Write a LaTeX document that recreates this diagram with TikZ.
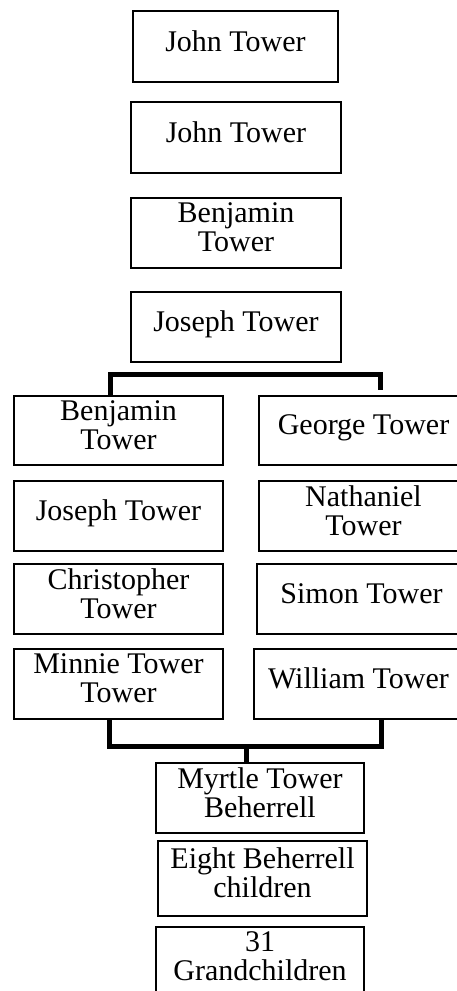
\documentclass[tikz,border=0pt]{standalone}
\usepackage{fontspec}
\setmainfont{Liberation Serif}
\usetikzlibrary{positioning}

\begin{document}
\begin{tikzpicture}[x=1pt, y=-1pt,
    person/.style={draw, line width=2pt, rectangle, align=center, inner sep=0pt,
      minimum width=209pt, minimum height=70pt, text depth=11pt,
      font=\fontsize{30}{29}\selectfont},
    bracket/.style={line width=5pt}]
    \useasboundingbox (0,0) rectangle (457,991);

    \node[person, minimum width=205pt, minimum height=71pt] (john1) at (235.5, 46.5) {John Tower};
    \node[person, minimum width=210pt, minimum height=71pt] (john2) at (236, 137.5) {John Tower};
    \node[person, minimum width=210pt] (benj1) at (236, 233) {Benjamin\\Tower};
    \node[person, minimum width=210pt] (jos1) at (236, 327) {Joseph Tower};

    \node[person, minimum height=69pt] (benj2) at (118.5, 430.5) {Benjamin\\Tower};
    \node[person, minimum height=69pt] (george) at (363.5, 430.5) {George Tower};
    \node[person] (jos2) at (118.5, 516) {Joseph Tower};
    \node[person] (nath) at (363.5, 516) {Nathaniel\\Tower};
    \node[person] (chris) at (118.5, 599) {Christopher\\Tower};
    \node[person] (simon) at (361.5, 599) {Simon Tower};
    \node[person] (minnie) at (118.5, 684) {Minnie Tower\\Tower};
    \node[person] (will) at (358.5, 684) {William Tower};

    \node[person, minimum width=208pt] (myrtle) at (260, 798) {Myrtle Tower\\Beherrell};
    \node[person, minimum height=75pt] (eight) at (262.5, 878.5) {Eight Beherrell\\children};
    \node[person, minimum width=208pt] (grand) at (260, 962) {31\\Grandchildren};

    \draw[bracket] ([xshift=-8pt]benj2.north) -- ++(0,-20.5) -| ([xshift=17pt, yshift=5pt]george.north);
    \draw[bracket] ([xshift=-9pt]minnie.south) -- ++(0,26.5) -| ([xshift=22.5pt]will.south);
    \draw[bracket] ([xshift=-13.5pt]myrtle.north) -- ++(0,-17);
\end{tikzpicture}
\end{document}
